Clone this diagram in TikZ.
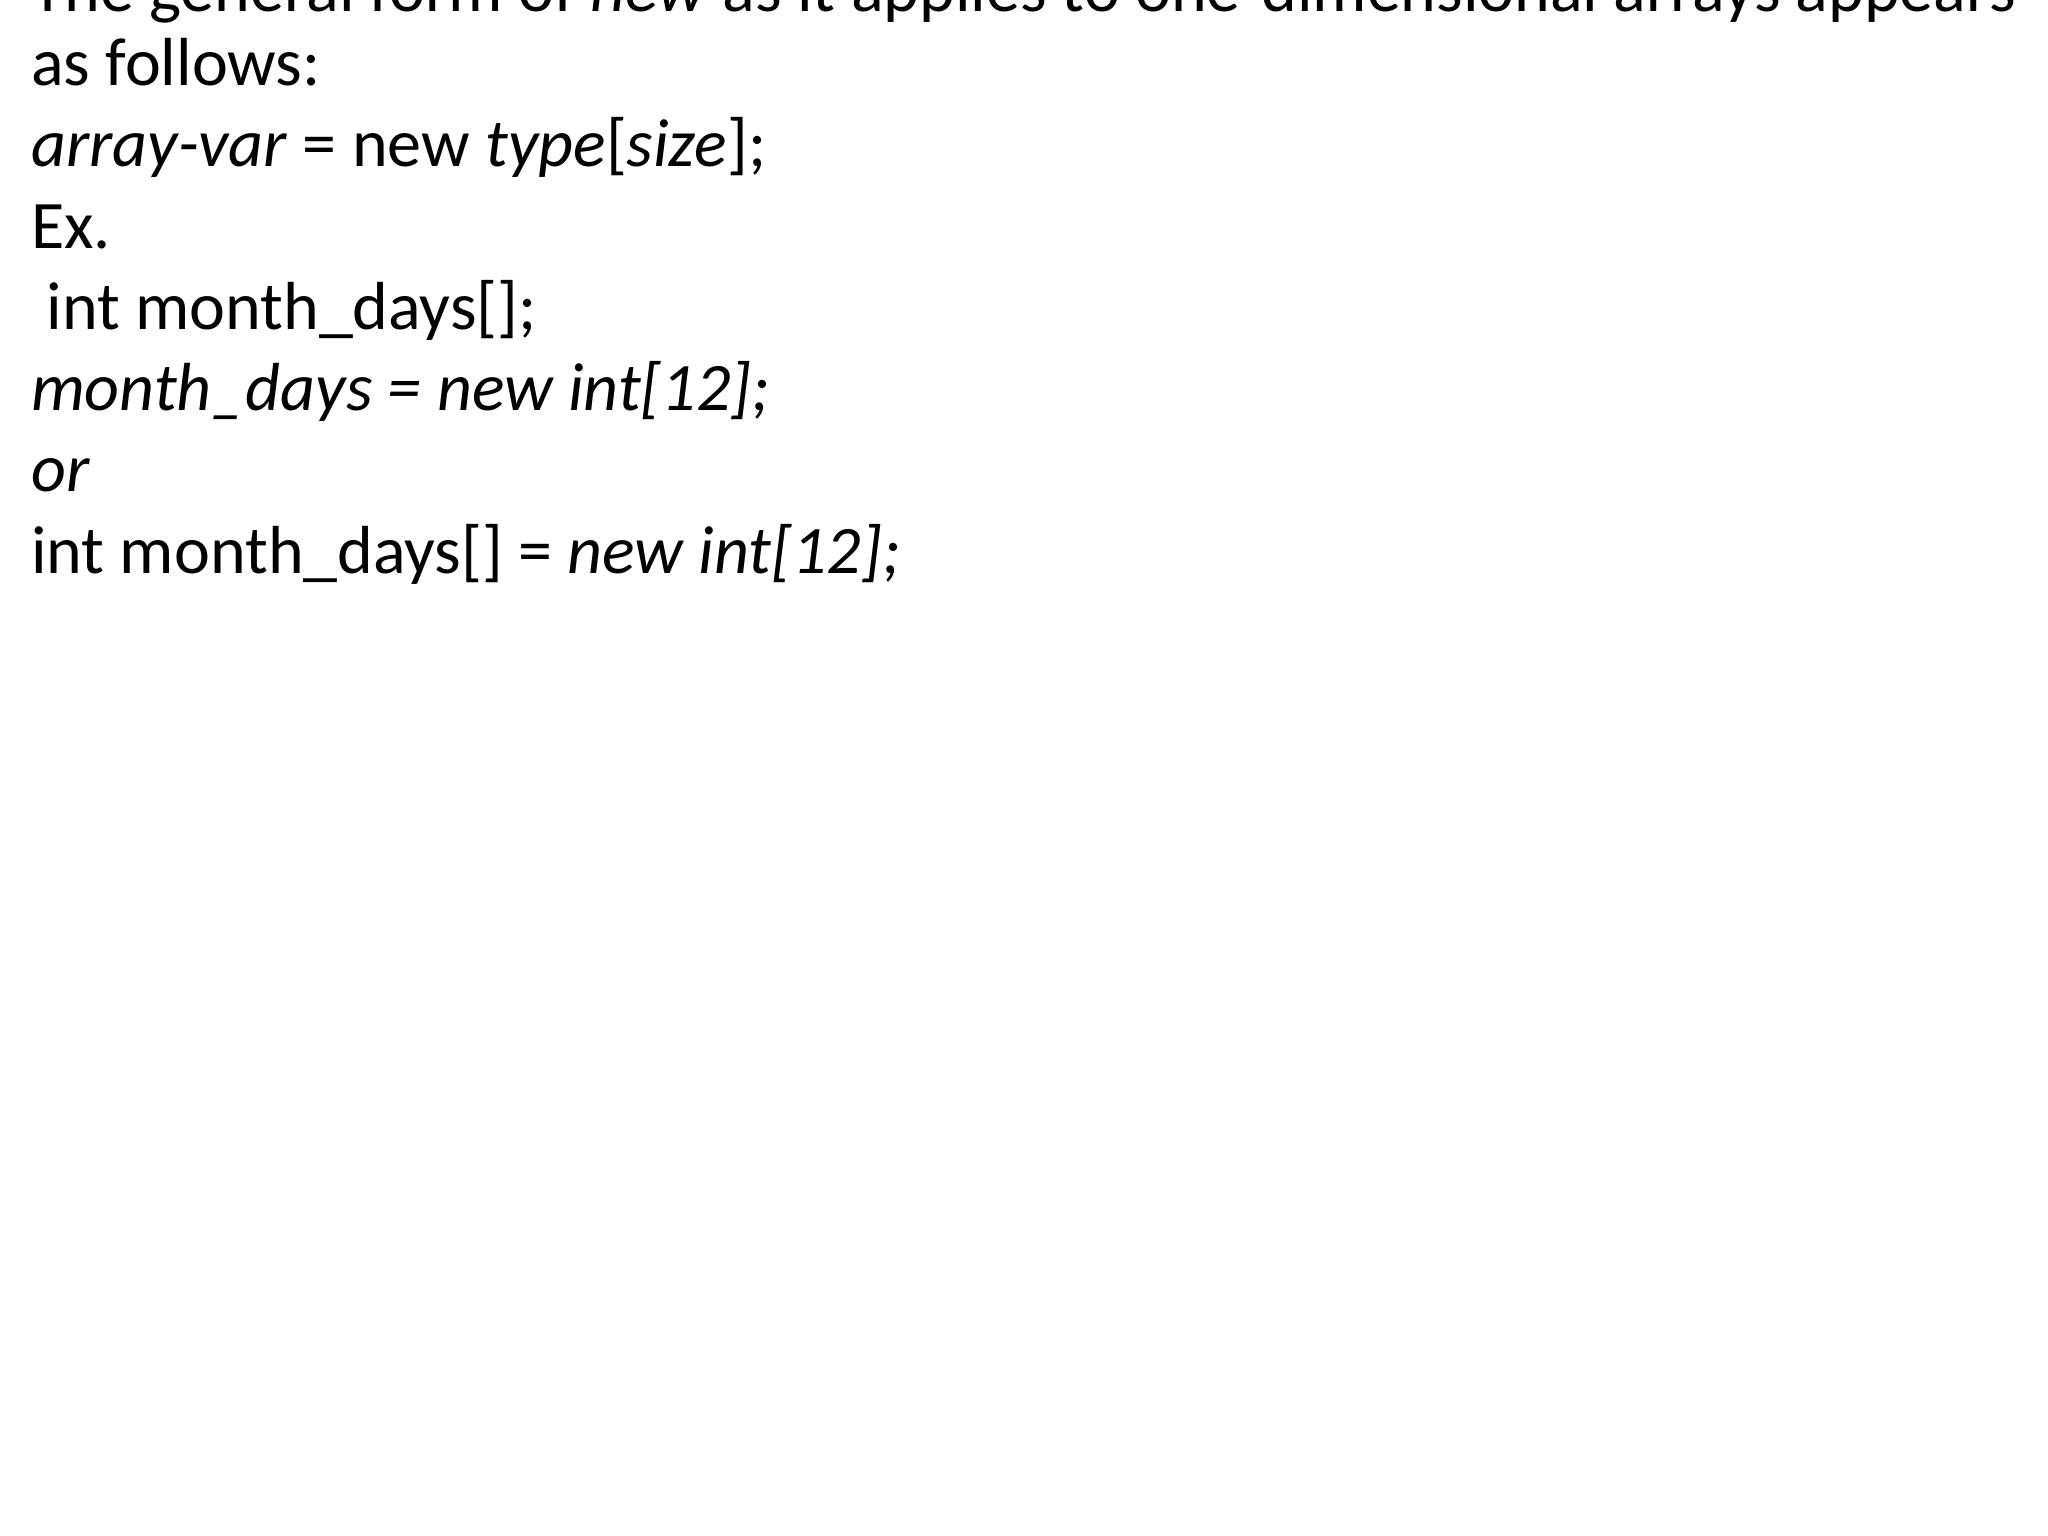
\documentclass[tikz,border=0pt]{standalone}
\usepackage{fontspec}
\setmainfont{Carlito}
\begin{document}
\begin{tikzpicture}[x=1pt,y=-1pt,
  ln/.style={anchor=base west,inner sep=0pt,font=\fontsize{68}{80}\selectfont}]
\useasboundingbox (0,0) rectangle (2048,1536);
\fill[white] (0,0) rectangle (2048,1536);
\node[ln] (l0) at (31,12) {The general form of \textit{new} as it applies to one-dimensional arrays appears};
\node[ln] (l1) at (31,86) {as follows:};
\node[ln] (l2) at (31,167) {\textit{array-var} = new \textit{type}[\textit{size}];};
\node[ln] (l3) at (31,248) {Ex.};
\node[ln] (l4) at (31,329) {\ int month\_days[];};
\node[ln] (l5) at (31,410) {\textit{month\_days = new int[12];}};
\node[ln] (l6) at (31,491) {\textit{or}};
\node[ln] (l7) at (31,573) {int month\_days[] = \textit{new int[12];}};
\end{tikzpicture}
\end{document}
